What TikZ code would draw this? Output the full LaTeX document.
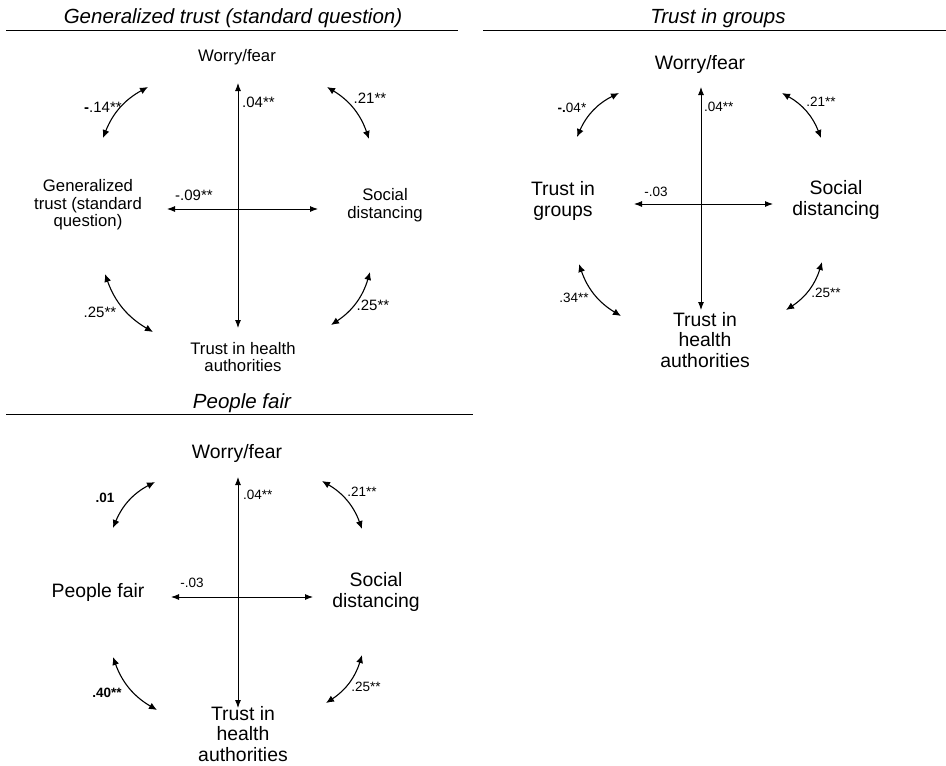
\documentclass[tikz,border=0pt]{standalone}
\usepackage{fontspec}
\setmainfont{Liberation Sans}
\usetikzlibrary{arrows.meta}
\tikzset{
  ttl/.style={font=\fontsize{20.5}{24}\selectfont\itshape, inner sep=0pt},
  rulel/.style={line width=1pt},
  lbla/.style={font=\fontsize{16.7}{17.5}\selectfont, align=center, inner sep=0pt},
  lblb/.style={font=\fontsize{19.4}{20.5}\selectfont, align=center, inner sep=0pt},
  numa/.style={font=\fontsize{15}{17}\selectfont, inner sep=0pt},
  numb/.style={font=\fontsize{13.5}{15}\selectfont, inner sep=0pt},
  axis/.style={line width=0.9pt, {Latex[length=8pt,width=6pt]}-{Latex[length=8pt,width=6pt]}},
  arc/.style={line width=1.1pt, {Latex[length=8pt,width=7pt]}-{Latex[length=8pt,width=7pt]}},
}
\begin{document}
\begin{tikzpicture}[x=1pt,y=1pt]
\useasboundingbox (0,0) rectangle (946,-766);
% ---------- Panel 1 ----------
\node[ttl] (t1) at (233,-18) {Generalized trust (standard question)};
\coordinate (r1a) at (6,-30); \coordinate (r1b) at (458,-30);
\draw[rulel] (r1a) -- (r1b);
\node[lbla] (w1) at (237,-57) {Worry/fear};
\node[lbla] (g1) at (88,-205) {Generalized\\trust (standard\\question)};
\node[lbla] (s1) at (385,-205) {Social\\distancing};
\node[lbla] (h1) at (243,-357) {Trust in health\\authorities};
\coordinate (v1t) at (238,-83); \coordinate (v1b) at (238,-328);
\coordinate (h1l) at (167,-209); \coordinate (h1r) at (318,-209);
\draw[axis] (v1t) -- (v1b);
\draw[axis] (h1l) -- (h1r);
\coordinate (a1s) at (148,-87); \coordinate (a1e) at (103,-138);
\coordinate (b1s) at (327,-87); \coordinate (b1e) at (369,-139);
\coordinate (c1s) at (105,-274); \coordinate (c1e) at (153,-332);
\coordinate (d1s) at (370,-272); \coordinate (d1e) at (331,-325);
\draw[arc] (a1s) to[bend right=20] (a1e);
\draw[arc] (b1s) to[bend left=20] (b1e);
\draw[arc] (c1s) to[bend right=20] (c1e);
\draw[arc] (d1s) to[bend left=20] (d1e);
\node[numa, anchor=west] (n1v) at (242,-102) {.04**};
\node[numa] (n1h) at (194,-195) {-.09**};
\node[numa] (n1a) at (103,-107) {\textbf{-}.14**};
\node[numa] (n1b) at (370,-98) {.21**};
\node[numa] (n1c) at (100,-312) {.25**};
\node[numa] (n1d) at (373,-305) {.25**};
% ---------- Panel 2 ----------
\node[ttl] (t2) at (718,-18) {Trust in groups};
\coordinate (r2a) at (483,-30); \coordinate (r2b) at (946,-30);
\draw[rulel] (r2a) -- (r2b);
\node[lblb] (w2) at (700,-64) {Worry/fear};
\node[lblb] (g2) at (563,-201) {Trust in\\groups};
\node[lblb] (s2) at (836,-200) {Social\\distancing};
\node[lblb] (h2) at (705,-340) {Trust in\\health\\authorities};
\coordinate (v2t) at (701,-87); \coordinate (v2b) at (701,-310);
\coordinate (h2l) at (634,-204); \coordinate (h2r) at (773,-204);
\draw[axis] (v2t) -- (v2b);
\draw[axis] (h2l) -- (h2r);
\coordinate (a2s) at (619,-93); \coordinate (a2e) at (577,-137);
\coordinate (b2s) at (782,-93); \coordinate (b2e) at (821,-138);
\coordinate (c2s) at (579,-264); \coordinate (c2e) at (621,-316);
\coordinate (d2s) at (822,-262); \coordinate (d2e) at (786,-310);
\draw[arc] (a2s) to[bend right=20] (a2e);
\draw[arc] (b2s) to[bend left=20] (b2e);
\draw[arc] (c2s) to[bend right=20] (c2e);
\draw[arc] (d2s) to[bend left=20] (d2e);
\node[numb, anchor=west] (n2v) at (704,-107) {.04**};
\node[numb] (n2h) at (656,-192) {-.03};
\node[numb] (n2a) at (572,-108) {\textbf{-.}04*};
\node[numb] (n2b) at (821,-102) {.21**};
\node[numb] (n2c) at (574,-298) {.34**};
\node[numb] (n2d) at (826,-293) {.25**};
% ---------- Panel 3 ----------
\node[ttl] (t3) at (242,-403) {People fair};
\coordinate (r3a) at (6,-414); \coordinate (r3b) at (473,-414);
\draw[rulel] (r3a) -- (r3b);
\node[lblb] (w3) at (237,-453) {Worry/fear};
\node[lblb] (g3) at (98,-592) {People fair};
\node[lblb] (s3) at (376,-592) {Social\\distancing};
\node[lblb] (h3) at (243,-734) {Trust in\\health\\authorities};
\coordinate (v3t) at (238,-477); \coordinate (v3b) at (238,-708);
\coordinate (h3l) at (171,-597); \coordinate (h3r) at (313,-597);
\draw[axis] (v3t) -- (v3b);
\draw[axis] (h3l) -- (h3r);
\coordinate (a3s) at (155,-482); \coordinate (a3e) at (113,-528);
\coordinate (b3s) at (322,-481); \coordinate (b3e) at (362,-529);
\coordinate (c3s) at (113,-657); \coordinate (c3e) at (157,-710);
\coordinate (d3s) at (362,-655); \coordinate (d3e) at (326,-703);
\draw[arc] (a3s) to[bend right=20] (a3e);
\draw[arc] (b3s) to[bend left=20] (b3e);
\draw[arc] (c3s) to[bend right=20] (c3e);
\draw[arc] (d3s) to[bend left=20] (d3e);
\node[numb, anchor=west] (n3v) at (243,-495) {.04**};
\node[numb] (n3h) at (192,-583) {-.03};
\node[numb] (n3a) at (105,-498) {\textbf{.01}};
\node[numb] (n3b) at (362,-492) {.21**};
\node[numb] (n3c) at (107,-693) {\textbf{.40**}};
\node[numb] (n3d) at (366,-687) {.25**};
\end{tikzpicture}
\end{document}
